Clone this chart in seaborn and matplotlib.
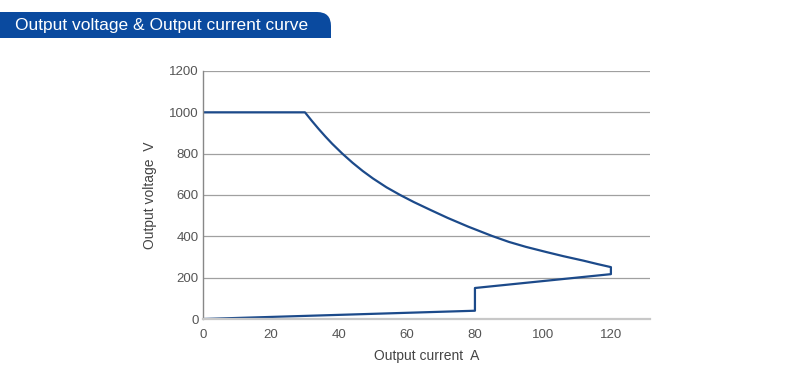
import matplotlib
matplotlib.use("Agg")
import matplotlib.pyplot as plt
import seaborn as sns
import pandas as pd
from matplotlib.patches import PathPatch
from matplotlib.path import Path

sns.set_style("white")
plt.rcParams['font.family'] = ['Liberation Sans', 'DejaVu Sans']

# Data (current A, voltage V), traced along the boundary
current = [0, 80, 80, 120, 120, 116, 112, 106, 101, 95, 90, 85, 78, 72, 67, 62, 58,
           54, 50, 47, 44, 41, 38, 36, 34, 32, 30, 0]
voltage = [0, 40, 150, 217, 251, 266, 282, 304, 324, 349, 373, 402, 447, 489, 527, 566, 600,
           637, 680, 716, 756, 800, 848, 883, 920, 959, 1000, 1000]
x_ticks = [0, 20, 40, 60, 80, 100, 120]
y_ticks = [0, 200, 400, 600, 800, 1000, 1200]

title = "Output voltage & Output current curve"
xlabel = "Output current  A"
ylabel = "Output voltage  V"

df = pd.DataFrame({"current": current, "voltage": voltage})

fig = plt.figure(figsize=(8.12, 3.74), dpi=100)
ax = fig.add_axes([203/812, 1 - 319/374, (650 - 203)/812, (319 - 71)/374])

sns.lineplot(data=df, x="current", y="voltage", sort=False, estimator=None,
             color="#1c4a8a", linewidth=1.6, ax=ax)
ax.lines[0].set_solid_joinstyle("round")

ax.set_xlim(0, 131.5)
ax.set_ylim(0, 1200)
ax.set_xticks(x_ticks)
ax.set_yticks(y_ticks)
ax.yaxis.grid(True, color="#a0a0a0", linewidth=0.9)
ax.xaxis.grid(False)
ax.tick_params(axis="both", length=0, labelsize=9.5, labelcolor="#555555")
ax.tick_params(axis="x", pad=7)
ax.tick_params(axis="y", pad=3)
for s in ["top", "right"]:
    ax.spines[s].set_visible(False)
ax.spines["left"].set_color("#888888")
ax.spines["left"].set_linewidth(1.0)
ax.spines["bottom"].set_color("#c8c8c8")
ax.spines["bottom"].set_linewidth(1.6)
ax.set_xlabel(xlabel, fontsize=10, color="#444444", labelpad=6)
ax.set_ylabel(ylabel, fontsize=10, color="#444444", labelpad=9)

# Banner
bax = fig.add_axes([0, 0, 1, 1], zorder=-1)
bax.set_xlim(0, 812)
bax.set_ylim(374, 0)
bax.axis("off")
r = 14
x0, x1, y0, y1 = 0, 331, 12, 38
verts = [(x0, y1), (x0, y0), (x1 - r, y0), (x1, y0), (x1, y0 + r), (x1, y1), (x0, y1)]
codes = [Path.MOVETO, Path.LINETO, Path.LINETO, Path.CURVE3, Path.CURVE3, Path.LINETO, Path.CLOSEPOLY]
bax.add_patch(PathPatch(Path(verts, codes), facecolor="#0a4a9f", edgecolor="none"))
bax.text(15, 25.5, title, color="white", fontsize=12.5, va="center", ha="left")

fig.savefig("out.png", dpi=100)
